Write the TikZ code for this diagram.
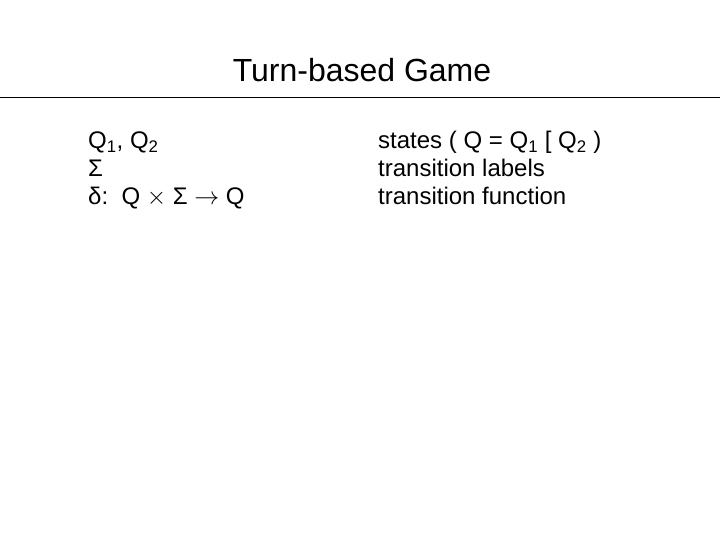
\documentclass[tikz,border=0pt]{standalone}
\usepackage{fontspec}
\setmainfont{Liberation Sans}
\begin{document}
\begin{tikzpicture}[x=1pt,y=-1pt,
  body/.style={anchor=base west,inner sep=0pt,font=\fontsize{24}{28}\selectfont}]
\useasboundingbox (0,0) rectangle (720,540);
\node[anchor=base,inner sep=0pt,font=\fontsize{32}{36}\selectfont] (title) at (362,82) {Turn-based Game};
\coordinate (l0) at (0,97); \coordinate (l1) at (720,97);
\draw[line width=0.8pt] (l0) -- (l1);
\node[body] (a1) at (88,149) {Q\textsubscript{1}, Q\textsubscript{2}};
\node[body] (a2) at (88,177) {Σ};
\node[body] (a3) at (88,205) {δ:\ \ Q $\times$ Σ $\rightarrow$ Q};
\node[body] (b1) at (378,149) {states ( Q = Q\textsubscript{1} [ Q\textsubscript{2} )};
\node[body] (b2) at (378,177) {transition labels};
\node[body] (b3) at (378,205) {transition function};
\end{tikzpicture}
\end{document}
